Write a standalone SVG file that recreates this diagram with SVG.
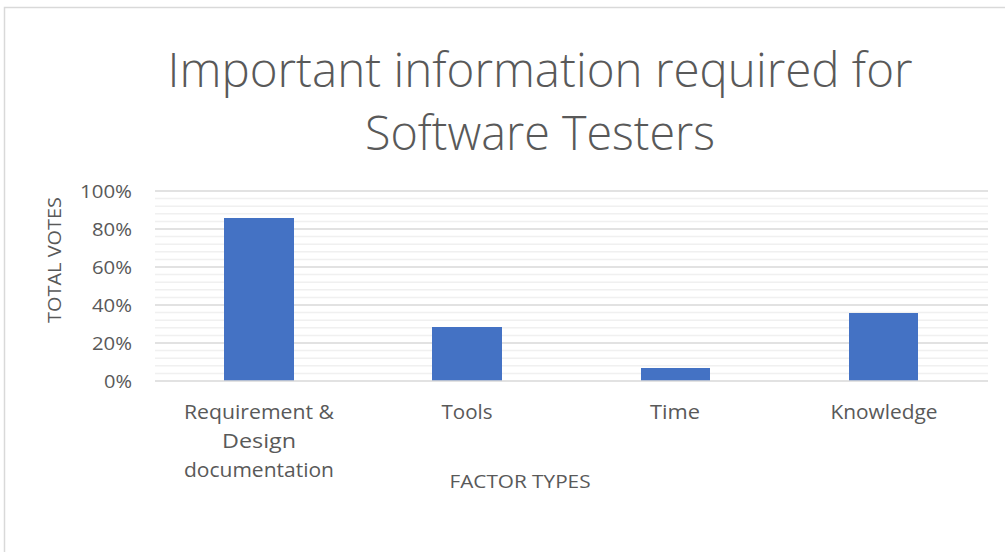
<svg xmlns="http://www.w3.org/2000/svg" width="1005" height="552" viewBox="0 0 1005 552">
  <style>
    .title { font-family: "Open Sans", "Liberation Sans", sans-serif; font-weight: 300; font-size: 47px; fill: #595959; text-anchor: middle; }
    .tick { font-family: "Open Sans", "Liberation Sans", sans-serif; font-size: 19px; fill: #595959; text-anchor: end; }
    .cat { font-family: "Open Sans", "Liberation Sans", sans-serif; font-size: 19.5px; fill: #595959; text-anchor: middle; }
    .axis-title { font-family: "Open Sans", "Liberation Sans", sans-serif; font-size: 18px; fill: #595959; text-anchor: middle; }
    .major { stroke: #d9d9d9; stroke-width: 1.5; }
    .minor { stroke: #f0f0f0; stroke-width: 1.5; }
    .bar { fill: #4472c4; }
  </style>

  <!-- chart frame -->
  <rect x="0" y="0" width="1005" height="552" fill="#ffffff"/>
  <path d="M4.5 552 V7.5 H1005" fill="none" stroke="#d9d9d9" stroke-width="1.5"/>

  <!-- title -->
  <text class="title" x="540" y="87" textLength="745" lengthAdjust="spacingAndGlyphs">Important information required for</text>
  <text class="title" x="540" y="150" textLength="350" lengthAdjust="spacingAndGlyphs">Software Testers</text>

  <!-- gridlines -->
  <g id="gridlines">
    <g class="minor">
      <line x1="155" x2="988" y1="198.6" y2="198.6"/>
      <line x1="155" x2="988" y1="206.2" y2="206.2"/>
      <line x1="155" x2="988" y1="213.8" y2="213.8"/>
      <line x1="155" x2="988" y1="221.4" y2="221.4"/>
      <line x1="155" x2="988" y1="236.6" y2="236.6"/>
      <line x1="155" x2="988" y1="244.2" y2="244.2"/>
      <line x1="155" x2="988" y1="251.8" y2="251.8"/>
      <line x1="155" x2="988" y1="259.4" y2="259.4"/>
      <line x1="155" x2="988" y1="274.6" y2="274.6"/>
      <line x1="155" x2="988" y1="282.2" y2="282.2"/>
      <line x1="155" x2="988" y1="289.8" y2="289.8"/>
      <line x1="155" x2="988" y1="297.4" y2="297.4"/>
      <line x1="155" x2="988" y1="312.6" y2="312.6"/>
      <line x1="155" x2="988" y1="320.2" y2="320.2"/>
      <line x1="155" x2="988" y1="327.8" y2="327.8"/>
      <line x1="155" x2="988" y1="335.4" y2="335.4"/>
      <line x1="155" x2="988" y1="350.6" y2="350.6"/>
      <line x1="155" x2="988" y1="358.2" y2="358.2"/>
      <line x1="155" x2="988" y1="365.8" y2="365.8"/>
      <line x1="155" x2="988" y1="373.4" y2="373.4"/>
    </g>
    <g class="major">
      <line x1="155" x2="988" y1="191" y2="191"/>
      <line x1="155" x2="988" y1="229" y2="229"/>
      <line x1="155" x2="988" y1="267" y2="267"/>
      <line x1="155" x2="988" y1="305" y2="305"/>
      <line x1="155" x2="988" y1="343" y2="343"/>
    </g>
  </g>

  <!-- bars -->
  <g id="bar-requirements"><rect class="bar" x="224" y="218" width="70" height="163"/></g>
  <g id="bar-tools"><rect class="bar" x="432" y="327" width="70" height="54"/></g>
  <g id="bar-time"><rect class="bar" x="641" y="368" width="69" height="13"/></g>
  <g id="bar-knowledge"><rect class="bar" x="849" y="313" width="69" height="68"/></g>

  <!-- category axis -->
  <line class="major" x1="155" x2="988" y1="381" y2="381"/>

  <!-- value axis labels -->
  <g id="value-axis">
    <text class="tick" x="132" y="198" textLength="52" lengthAdjust="spacingAndGlyphs">100%</text>
    <text class="tick" x="132" y="236" textLength="40" lengthAdjust="spacingAndGlyphs">80%</text>
    <text class="tick" x="132" y="274" textLength="40" lengthAdjust="spacingAndGlyphs">60%</text>
    <text class="tick" x="132" y="312" textLength="40" lengthAdjust="spacingAndGlyphs">40%</text>
    <text class="tick" x="132" y="350" textLength="40" lengthAdjust="spacingAndGlyphs">20%</text>
    <text class="tick" x="132" y="388" textLength="28" lengthAdjust="spacingAndGlyphs">0%</text>
  </g>

  <!-- category labels -->
  <g id="category-axis">
    <text class="cat" x="259" y="419" textLength="150" lengthAdjust="spacingAndGlyphs">Requirement &amp;</text>
    <text class="cat" x="259" y="448" textLength="74" lengthAdjust="spacingAndGlyphs">Design</text>
    <text class="cat" x="259" y="477" textLength="150" lengthAdjust="spacingAndGlyphs">documentation</text>
    <text class="cat" x="467" y="419" textLength="51" lengthAdjust="spacingAndGlyphs">Tools</text>
    <text class="cat" x="675" y="419" textLength="50" lengthAdjust="spacingAndGlyphs">Time</text>
    <text class="cat" x="884" y="419" textLength="107" lengthAdjust="spacingAndGlyphs">Knowledge</text>
  </g>

  <!-- axis titles -->
  <text class="axis-title" x="520" y="488" textLength="141" lengthAdjust="spacingAndGlyphs">FACTOR TYPES</text>
  <text class="axis-title" transform="translate(61 260) rotate(-90)" textLength="126" lengthAdjust="spacingAndGlyphs">TOTAL VOTES</text>
</svg>
